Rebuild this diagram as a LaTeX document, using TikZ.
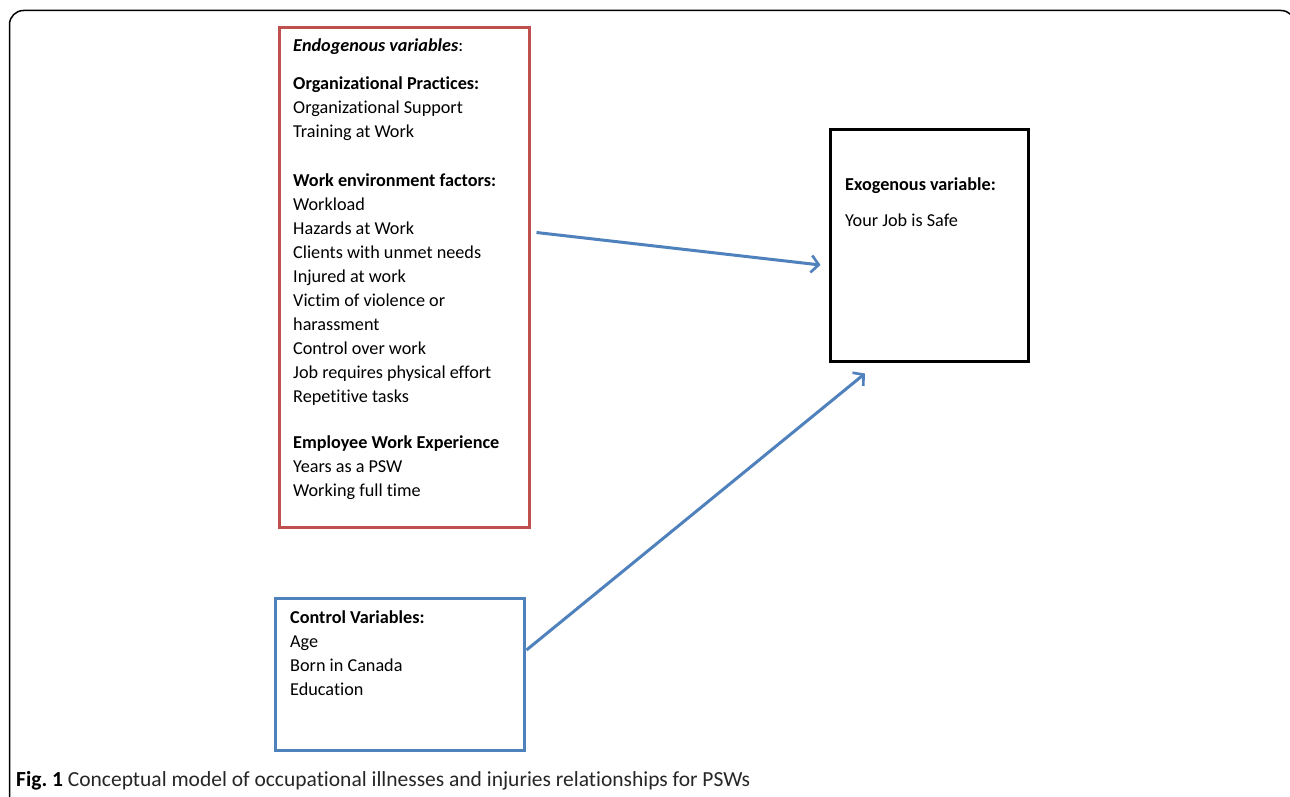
\documentclass[tikz,border=0pt]{standalone}
\usepackage{fontspec}
\setmainfont[Ligatures=NoCommon]{Carlito}
\usetikzlibrary{arrows.meta,calc}
\definecolor{redc}{HTML}{C0504D}
\definecolor{bluec}{HTML}{4F81BD}
\begin{document}
\begin{tikzpicture}[x=1pt,y=-1pt,
  boxbase/.style={draw,line width=3pt,inner sep=0pt},
  redbox/.style={boxbase,draw=redc,minimum width=250pt,minimum height=499pt},
  blackbox/.style={boxbase,draw=black,minimum width=198pt,minimum height=231pt},
  bluebox/.style={boxbase,draw=bluec,minimum width=249pt,minimum height=152pt},
  txt/.style={anchor=base west,inner sep=0pt,font=\fontsize{18.2}{22}\selectfont},
  captxt/.style={anchor=base west,inner sep=0pt,font=\fontsize{21.5}{26}\selectfont},
  conn/.style={draw=bluec,line width=3pt,-{Straight Barb[length=7.5pt,width=17pt,line width=2.6pt]}}
]
\useasboundingbox (0,0) rectangle (1290,797);
\clip (0,0) rectangle (1290,797);
\fill[white] (0,0) rectangle (1290,797);
\draw[line width=1.5pt,rounded corners=14pt] (9.5,10.5) rectangle (1295,830);

\node[redbox] (endo) at (404,277.5) {};
\node[blackbox] (exo) at (929,245.5) {};
\node[bluebox] (ctrl) at (399.5,674) {};

% red box text
\node[txt] (e1) at (293,52) {\textbf{\textit{Endogenous variables}}:};
\node[txt] (e2) at (293,90) {\textbf{Organizational Practices:}};
\node[txt] (e3) at (293,114) {Organizational Support};
\node[txt] (e4) at (293,138) {Training at Work};
\node[txt] (e5) at (293,186) {\textbf{Work environment factors:}};
\node[txt] (e6) at (293,210) {Workload};
\node[txt] (e7) at (293,234) {Hazards at Work};
\node[txt] (e8) at (293,258) {Clients with unmet needs};
\node[txt] (e9) at (293,282) {Injured at work};
\node[txt] (e10) at (293,306) {Victim of violence or};
\node[txt] (e11) at (293,330) {harassment};
\node[txt] (e12) at (293,354) {Control over work};
\node[txt] (e13) at (293,378) {Job requires physical effort};
\node[txt] (e14) at (293,402) {Repetitive tasks};
\node[txt] (e15) at (293,448) {\textbf{Employee Work Experience}};
\node[txt] (e16) at (293,472) {Years as a PSW};
\node[txt] (e17) at (293,496) {Working full time};

% black box text
\node[txt] (x1) at (845,190) {\textbf{Exogenous variable:}};
\node[txt] (x2) at (845,226) {Your Job is Safe};

% blue box text
\node[txt] (c1) at (290,623) {\textbf{Control Variables:}};
\node[txt] (c2) at (290,647) {Age};
\node[txt] (c3) at (290,671) {Born in Canada};
\node[txt] (c4) at (290,695) {Education};

% connectors
\coordinate (a1s) at ($(endo.north east)+(6,206)$);
\coordinate (a1e) at ($(exo.west)+(-8,19.5)$);
\coordinate (a2s) at ($(ctrl.east)+(1,-24)$);
\coordinate (a2e) at ($(exo.south)+(-64,11)$);
\draw[conn] (a1s) -- (a1e);
\draw[conn] (a2s) -- (a2e);

% caption
\node[captxt] (fig) at (16,786) {\textbf{Fig.~1} \textcolor{black!85}{Conceptual model of occupational illnesses and injuries relationships for PSWs}};
\end{tikzpicture}
\end{document}
